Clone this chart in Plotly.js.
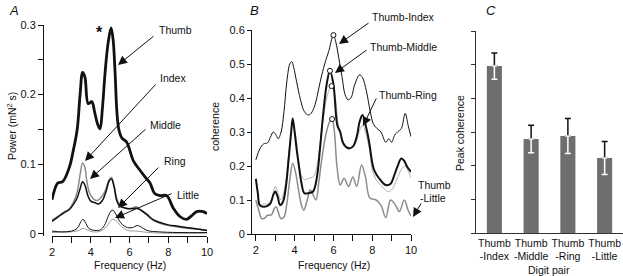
<!DOCTYPE html>
<html><head><meta charset="utf-8">
<script src="https://cdn.plot.ly/plotly-3.0.1.min.js"></script>
<style>html,body{margin:0;padding:0;background:#fff}#chart{width:623px;height:276px}</style>
</head><body><div id="chart"></div>
<script>
// ---------- Panel A: power spectra ----------
const thumbF = [2.0,2.3,2.55,2.9,3.1,3.3,3.45,3.58,3.7,3.87,4.05,4.2,4.35,4.48,4.6,4.75,4.9,5.05,5.15,5.25,5.35,5.45,5.6,5.85,6.2,6.55,6.8,7.06,7.3,7.6,7.92,8.26,8.6,8.95,9.2,9.47,9.8,10.0];
const thumbP = [0.049,0.073,0.075,0.096,0.12,0.15,0.2,0.232,0.225,0.187,0.19,0.175,0.158,0.151,0.18,0.235,0.275,0.296,0.28,0.235,0.175,0.15,0.138,0.132,0.105,0.091,0.082,0.073,0.058,0.055,0.055,0.037,0.025,0.021,0.026,0.032,0.032,0.029];
const indexF = [2.0,2.3,2.6,2.9,3.1,3.3,3.45,3.58,3.7,3.8,3.95,4.15,4.35,4.55,4.75,4.95,5.07,5.2,5.35,5.5,5.8,6.1,6.35,6.6,6.9,7.2,7.5,8.0,8.5,9.0,9.5,10.0];
const indexP = [0.02,0.025,0.031,0.036,0.045,0.06,0.085,0.102,0.095,0.075,0.058,0.05,0.048,0.053,0.062,0.078,0.081,0.07,0.05,0.042,0.037,0.037,0.039,0.034,0.027,0.02,0.016,0.012,0.01,0.008,0.007,0.005];
const middleF = [2.0,2.3,2.6,2.9,3.1,3.3,3.45,3.58,3.7,3.85,4.0,4.2,4.4,4.6,4.8,4.95,5.07,5.2,5.35,5.5,5.8,6.1,6.35,6.6,6.9,7.2,7.5,8.0,8.5,9.0,9.5,10.0];
const middleP = [0.018,0.024,0.03,0.035,0.042,0.052,0.065,0.075,0.07,0.055,0.047,0.045,0.043,0.048,0.062,0.076,0.079,0.068,0.047,0.04,0.037,0.036,0.037,0.034,0.028,0.021,0.017,0.013,0.011,0.009,0.007,0.005];
const ringF = [2.0,2.5,3.0,3.3,3.5,3.6,3.75,3.9,4.2,4.5,4.7,4.9,5.05,5.15,5.3,5.45,5.65,5.9,6.15,6.4,6.6,6.9,7.5,8.5,10.0];
const ringP = [0.004,0.003,0.004,0.008,0.018,0.021,0.015,0.008,0.005,0.006,0.012,0.025,0.033,0.034,0.028,0.02,0.013,0.009,0.009,0.012,0.01,0.005,0.003,0.002,0.002];
const littleF = [2.0,3.0,3.4,3.6,3.8,4.1,4.5,4.8,5.0,5.15,5.35,5.6,5.9,6.4,7.0,8.0,10.0];
const littleP = [0.002,0.003,0.005,0.008,0.006,0.003,0.004,0.01,0.018,0.021,0.018,0.01,0.005,0.004,0.002,0.001,0.001];

// ---------- Panel B: coherence ----------
const tiF = [2.0,2.2,2.4,2.6,2.75,2.9,3.05,3.15,3.3,3.45,3.6,3.75,3.85,3.95,4.1,4.3,4.5,4.7,4.85,5.05,5.25,5.4,5.6,5.75,6.0,6.12,6.27,6.45,6.6,6.75,6.9,7.1,7.35,7.5,7.7,7.9,8.05,8.25,8.45,8.7,8.85,9.0,9.15,9.3,9.5,9.7,9.85,10.0];
const tiC = [0.218,0.25,0.265,0.268,0.285,0.3,0.29,0.28,0.3,0.36,0.45,0.5,0.507,0.49,0.448,0.395,0.36,0.35,0.355,0.38,0.43,0.468,0.51,0.536,0.585,0.565,0.52,0.46,0.41,0.395,0.4,0.44,0.468,0.46,0.42,0.36,0.325,0.31,0.3,0.27,0.28,0.27,0.29,0.3,0.31,0.355,0.32,0.286];
const tmF = [2.0,2.1,2.2,2.4,2.6,2.75,2.9,3.0,3.12,3.25,3.4,3.55,3.7,3.82,3.9,4.0,4.1,4.2,4.35,4.5,4.7,4.95,5.15,5.3,5.45,5.65,5.82,6.0,6.2,6.35,6.5,6.75,7.0,7.2,7.35,7.5,7.7,7.85,8.0,8.1,8.35,8.7,8.95,9.15,9.3,9.5,9.65,9.8,10.0];
const tmC = [0.162,0.12,0.085,0.08,0.083,0.09,0.115,0.125,0.11,0.085,0.095,0.14,0.227,0.3,0.34,0.3,0.25,0.208,0.15,0.12,0.12,0.125,0.168,0.247,0.34,0.44,0.48,0.44,0.32,0.3,0.267,0.253,0.257,0.286,0.33,0.35,0.31,0.267,0.21,0.188,0.164,0.144,0.148,0.175,0.198,0.222,0.215,0.198,0.183];
const trF = [2.0,2.2,2.4,2.6,2.8,3.0,3.15,3.3,3.5,3.7,3.9,4.05,4.2,4.35,4.5,4.8,5.0,5.15,5.3,5.5,5.7,5.9,6.1,6.25,6.4,6.55,6.75,7.0,7.2,7.35,7.5,7.7,7.85,8.0,8.2,8.5,8.8,9.0,9.3,9.5,9.7,9.85,10.0];
const trC = [0.1,0.085,0.088,0.088,0.1,0.14,0.12,0.1,0.14,0.24,0.32,0.29,0.22,0.17,0.16,0.165,0.17,0.2,0.26,0.35,0.41,0.435,0.4,0.32,0.29,0.265,0.25,0.255,0.275,0.305,0.32,0.29,0.25,0.19,0.16,0.14,0.125,0.13,0.165,0.19,0.2,0.185,0.165];
const tlF = [2.0,2.15,2.3,2.45,2.6,2.8,2.95,3.05,3.15,3.3,3.45,3.6,3.75,3.9,4.05,4.2,4.35,4.47,4.65,4.8,4.95,5.1,5.25,5.4,5.6,5.8,5.93,6.05,6.18,6.35,6.55,6.78,7.0,7.2,7.45,7.65,7.88,8.2,8.45,8.7,8.95,9.2,9.4,9.65,9.85,10.0];
const tlC = [0.1,0.07,0.045,0.047,0.055,0.056,0.075,0.08,0.065,0.045,0.05,0.09,0.16,0.208,0.18,0.13,0.085,0.07,0.1,0.13,0.115,0.1,0.155,0.22,0.29,0.33,0.338,0.3,0.2,0.144,0.164,0.14,0.168,0.14,0.203,0.168,0.106,0.1,0.085,0.048,0.1,0.085,0.066,0.1,0.07,0.053];
const peakF = [6.0,5.82,5.9,5.93];
const peakC = [0.585,0.48,0.435,0.338];

// ---------- Panel C: peak coherence ----------
const pairLabels = ['Thumb<br>-Index','Thumb<br>-Middle','Thumb<br>-Ring','Thumb<br>-Little'];
const peakMean = [0.496,0.279,0.288,0.223];
const peakErr = [0.039,0.041,0.052,0.049];

// ---------- ticks ----------
const freqTickVals = [2,3,4,5,6,7,8,9,10];
const freqTickText = ['2','','4','','6','','8','','10'];
const powerTickVals = [0,0.05,0.1,0.15,0.2,0.25,0.3];
const powerTickText = ['0','','0.1','','0.2','','0.3'];
const cohTickVals = [0,0.1,0.2,0.3,0.4,0.5,0.6];
const cohTickText = ['0','0.1','0.2','0.3','0.4','0.5','0.6'];

const W = 623, H = 276;
const px = x => x / W, py = y => 1 - y / H;
const FONT = 'Liberation Sans, Arial, Helvetica, sans-serif';
const INK = '#111';

function line(x, y, color, width, xa, ya) {
  return {type:'scatter', mode:'lines', x:x, y:y, xaxis:xa, yaxis:ya,
    line:{color:color, width:width, shape:'spline', smoothing:1}, hoverinfo:'skip'};
}
const zeros = peakErr.map(() => 0);

const data = [
  line(littleF, littleP, '#9a9a9a', 1, 'x', 'y'),
  line(ringF, ringP, INK, 1, 'x', 'y'),
  line(indexF, indexP, '#8a8a8a', 1.5, 'x', 'y'),
  line(middleF, middleP, INK, 1.5, 'x', 'y'),
  line(thumbF, thumbP, INK, 2.8, 'x', 'y'),
  line(tlF, tlC, '#8c8c8c', 1.5, 'x2', 'y2'),
  line(trF, trC, '#b0b0b0', 1, 'x2', 'y2'),
  line(tmF, tmC, INK, 2, 'x2', 'y2'),
  line(tiF, tiC, INK, 1, 'x2', 'y2'),
  {type:'scatter', mode:'markers', x:peakF, y:peakC, xaxis:'x2', yaxis:'y2',
   marker:{symbol:'circle', size:5, color:'#fff', line:{color:INK, width:1}}, hoverinfo:'skip', cliponaxis:false},
  {type:'bar', x:pairLabels, y:peakMean, xaxis:'x3', yaxis:'y3', marker:{color:'#6e6e6e', line:{width:0}},
   error_y:{type:'data', symmetric:false, array:peakErr, arrayminus:zeros, color:INK, thickness:1.5, width:3}, hoverinfo:'skip'},
  {type:'scatter', mode:'markers', x:pairLabels, y:peakMean, xaxis:'x3', yaxis:'y3', marker:{size:1, opacity:0},
   error_y:{type:'data', symmetric:false, array:zeros, arrayminus:peakErr, color:'#fff', thickness:1.5, width:3}, hoverinfo:'skip'}
];

const axBase = {showline:true, linecolor:INK, linewidth:1, ticks:'outside', tickwidth:1, tickcolor:INK,
  showgrid:false, zeroline:false, fixedrange:true, tickfont:{size:11, color:INK, family:FONT}, tickmode:'array'};

function txt(t, x, y, opts) {
  return Object.assign({text:t, x:px(x), y:py(y), xref:'paper', yref:'paper', showarrow:false,
    xanchor:'left', yanchor:'middle', font:{size:10.5, color:INK, family:FONT}}, opts || {});
}
function arrow(tx, ty, sx, sy) {
  return {text:'', x:px(tx), y:py(ty), xref:'paper', yref:'paper', showarrow:true,
    ax:sx - tx, ay:sy - ty, axref:'pixel', ayref:'pixel',
    arrowhead:2, arrowsize:1.8, arrowwidth:1, arrowcolor:INK, standoff:0, startstandoff:0};
}

const annotations = [
  txt('<i>A</i>', 7, 11, {font:{size:13, color:INK, family:FONT}}),
  txt('<i>B</i>', 248, 10, {font:{size:13, color:INK, family:FONT}}),
  txt('<i>C</i>', 484, 10, {font:{size:13, color:INK, family:FONT}}),
  txt('<b>*</b>', 99, 33, {xanchor:'center', font:{size:16, color:INK, family:FONT}}),
  txt('Power (mN<sup>2</sup> s)', 11, 126, {xanchor:'center', textangle:-90}),
  txt('Frequency (Hz)', 129.5, 265, {xanchor:'center'}),
  txt('coherence', 215, 127, {xanchor:'center', textangle:-90}),
  txt('Frequency (Hz)', 333.5, 265, {xanchor:'center'}),
  txt('Peak coherence', 460, 133, {xanchor:'center', textangle:-90}),
  txt('Digit pair', 549, 270, {xanchor:'center'}),
  // panel A labels
  txt('Thumb', 157, 30), arrow(118, 65, 155, 35),
  txt('Index', 158, 78), arrow(85, 161, 157, 83),
  txt('Middle', 148, 125), arrow(90, 179, 147, 128),
  txt('Ring', 162, 161), arrow(118, 208, 160, 166),
  txt('Little', 175, 195), arrow(115, 218, 173, 193),
  // panel B labels
  txt('Thumb-Index', 370, 17), arrow(339, 44, 370, 22),
  txt('Thumb-Middle', 368, 47), arrow(335, 73, 368, 49),
  txt('Thumb-Ring', 377, 95), arrow(363, 126, 377, 97),
  txt('Thumb', 416, 185), txt('-Little', 418, 198), arrow(413, 217, 422, 202)
];

const layout = {
  width:W, height:H, margin:{l:0, r:0, t:0, b:0, pad:0}, paper_bgcolor:'#fff', plot_bgcolor:'rgba(0,0,0,0)',
  showlegend:false, font:{family:FONT, size:10.5, color:INK}, bargap:0.59,
  xaxis:Object.assign({}, axBase, {domain:[px(52), px(207)], range:[2,10], anchor:'y', ticklen:6,
    tickvals:freqTickVals, ticktext:freqTickText}),
  yaxis:Object.assign({}, axBase, {domain:[py(236), py(25)], range:[-0.003,0.3], anchor:'free', position:px(43), ticklen:5,
    tickvals:powerTickVals, ticktext:powerTickText}),
  xaxis2:Object.assign({}, axBase, {domain:[px(252), px(411)], range:[1.8,10], anchor:'y2', ticklen:6,
    tickvals:freqTickVals, ticktext:freqTickText}),
  yaxis2:Object.assign({}, axBase, {domain:[py(234), py(30)], range:[0,0.6], anchor:'x2', ticklen:4,
    tickvals:cohTickVals, ticktext:cohTickText}),
  xaxis3:Object.assign({}, axBase, {domain:[px(476), 1], type:'category', anchor:'y3', ticks:'', linecolor:'#333',
    tickfont:{size:10.5, color:INK, family:FONT}}),
  yaxis3:Object.assign({}, axBase, {domain:[py(233), py(31)], range:[0,0.6], anchor:'x3', ticklen:4, linecolor:'#333',
    tickcolor:'#333', tickvals:cohTickVals, showticklabels:false}),
  annotations:annotations
};
delete layout.xaxis3.tickmode;

Plotly.newPlot('chart', data, layout, {staticPlot:true, displayModeBar:false});
</script></body></html>
